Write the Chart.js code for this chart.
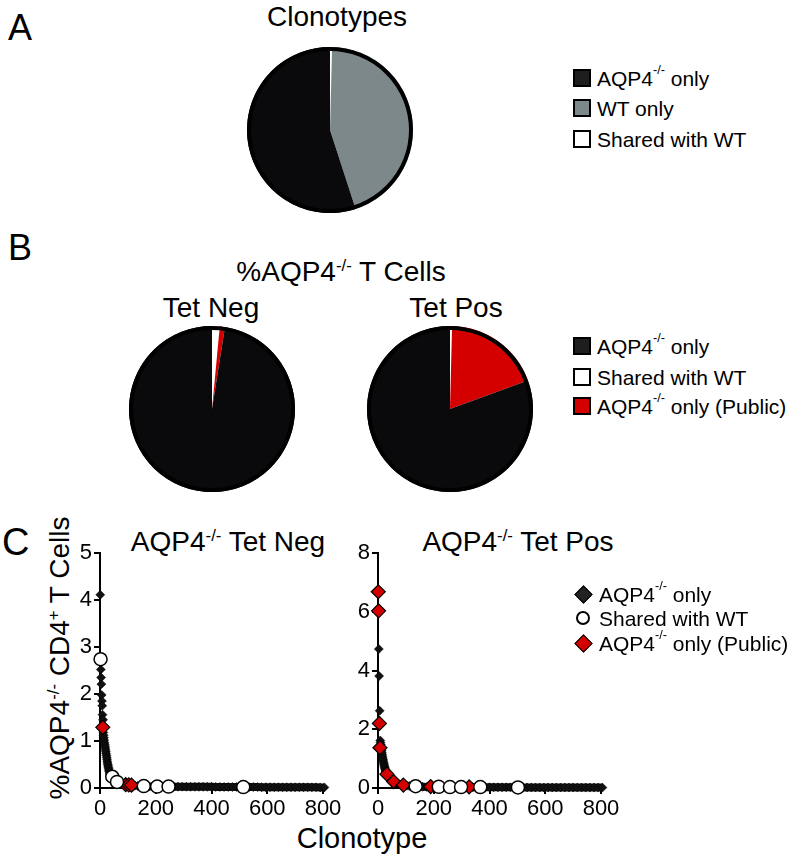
<!DOCTYPE html>
<html lang="en">
<head>
<meta charset="UTF-8">
<title>AQP4-/- clonotypes</title>
<script src="https://cdn.jsdelivr.net/npm/chart.js"></script>
<style>
  body { margin: 0; background: #fff; }
  #fig { position: relative; width: 793px; height: 858px; overflow: hidden;
         font-family: 'Liberation Sans', Arial, sans-serif; color: #000; }
  canvas { position: absolute; }
  .txt { position: absolute; line-height: 1; white-space: nowrap; }
  .c { transform: translateX(-50%); }
  .sup { font-size: 0.6em; position: relative; top: -0.6em; }
  .panel { font-size: 36px; }
  .ttl { font-size: 28px; }
  .leg { position: absolute; left: 573px; height: 24px; display: flex; align-items: center;
         font-size: 21px; line-height: 1; white-space: nowrap; }
  .box { width: 14px; height: 14px; border: 2.5px solid #000; margin-right: 6px; }
  .mk { width: 20px; height: 20px; margin-right: 6px; display: flex; align-items: center; justify-content: center; }
  .dia { width: 11px; height: 11px; border: 1.5px solid #000; transform: rotate(45deg); }
  .circ { width: 10px; height: 10px; border: 2.5px solid #000; border-radius: 50%; background: #fff; }
</style>
</head>
<body>
<div id="fig">
  <div class="txt panel" style="left:8px;top:10px">A</div>
  <div class="txt ttl c" style="left:337px;top:3px">Clonotypes</div>
  <canvas id="pieA" width="176" height="176" style="left:242px;top:42px"></canvas>
  <div class="leg" style="top:66px"><div class="box" style="background:#1e1e1e"></div>AQP4<span class="sup">-/-</span>&nbsp;only</div>
  <div class="leg" style="top:96px"><div class="box" style="background:#7d888b"></div>WT only</div>
  <div class="leg" style="top:127px"><div class="box" style="background:#fff"></div>Shared with WT</div>

  <div class="txt panel" style="left:8px;top:230px">B</div>
  <div class="txt ttl c" style="left:341px;top:258px">%AQP4<span class="sup">-/-</span> T Cells</div>
  <div class="txt ttl c" style="left:211px;top:294px">Tet Neg</div>
  <div class="txt ttl c" style="left:456px;top:294px">Tet Pos</div>
  <canvas id="pieNeg" width="176" height="176" style="left:124px;top:321px"></canvas>
  <canvas id="piePos" width="176" height="176" style="left:362px;top:321px"></canvas>
  <div class="leg" style="top:334px"><div class="box" style="background:#1e1e1e"></div>AQP4<span class="sup">-/-</span>&nbsp;only</div>
  <div class="leg" style="top:365px"><div class="box" style="background:#fff"></div>Shared with WT</div>
  <div class="leg" style="top:394px"><div class="box" style="background:#d40000"></div>AQP4<span class="sup">-/-</span>&nbsp;only (Public)</div>

  <div class="txt panel" style="left:2px;top:523px;font-size:38px">C</div>
  <div class="txt ttl c" style="left:228px;top:528px">AQP4<span class="sup">-/-</span> Tet Neg</div>
  <div class="txt ttl c" style="left:518px;top:528px">AQP4<span class="sup">-/-</span> Tet Pos</div>
  <div class="txt ttl" style="left:60px;top:658px;transform:translate(-50%,-50%) rotate(-90deg)">%AQP4<span class="sup">-/-</span> CD4<span class="sup">+</span> T Cells</div>
  <div class="txt ttl c" style="left:362px;top:824px;font-size:29px">Clonotype</div>
  <canvas id="scNeg" width="320" height="300" style="left:40px;top:530px"></canvas>
  <canvas id="scPos" width="320" height="300" style="left:318px;top:530px"></canvas>
  <div class="leg" style="top:582px;left:573px"><div class="mk"><div class="dia" style="background:#222"></div></div>AQP4<span class="sup">-/-</span>&nbsp;only</div>
  <div class="leg" style="top:606px;left:573px"><div class="mk"><div class="circ"></div></div>Shared with WT</div>
  <div class="leg" style="top:631px;left:573px"><div class="mk"><div class="dia" style="background:#d40000"></div></div>AQP4<span class="sup">-/-</span>&nbsp;only (Public)</div>
</div>

<script>
// ---- A: clonotypes (%), drawn clockwise from 12 o'clock
const clonoLabels = ['Shared with WT', 'WT only', 'AQP4-/- only'];
const clonoValues = [0.4, 44.6, 55.0];

// ---- B: % of AQP4-/- T cells
const cellLabels = ['Shared with WT', 'AQP4-/- only (Public)', 'AQP4-/- only'];
const tetNegPie = [1.5, 1.0, 97.5];
const tetPosPie = [0.4, 19.0, 80.6];

// ---- C: clonotype rank (x) vs % of AQP4-/- CD4+ T cells (y)
const negOnlyX = [1, 3, 4, 5, 6, 7, 8, 9, 11,
  12, 13, 14, 15, 16, 17, 18, 19, 20, 21, 22, 23, 24, 25, 26, 27, 28, 29, 30, 31, 32, 33, 34,
  36, 39, 42, 46, 50, 55, 60, 66, 72, 80, 88, 96, 105, 115, 125, 135, 145,
  160, 175, 190, 205, 220, 235, 250, 265, 280, 295, 310, 325, 340, 355, 370, 385, 400, 415, 430, 445,
  460, 475, 490, 505, 520, 535, 550, 565, 580, 595, 610, 625, 640, 655, 670, 685, 700, 715, 730, 745,
  760, 775, 790, 805, 820, 835, 850];
const negOnlyY = [4.11, 2.52, 2.35, 2.21, 1.98, 1.85, 1.75, 1.56, 1.45,
  1.18, 1.12, 1.07, 1.02, 0.97, 0.93, 0.89, 0.85, 0.81, 0.77, 0.73, 0.69, 0.65, 0.61, 0.57, 0.53, 0.5,
  0.47, 0.44, 0.41, 0.38, 0.35, 0.32,
  0.28, 0.26, 0.24, 0.21, 0.19, 0.16, 0.14, 0.12, 0.1, 0.09, 0.08, 0.07, 0.06, 0.055, 0.05, 0.045, 0.04,
  0.035, 0.034, 0.033, 0.032, 0.031, 0.03, 0.03, 0.029, 0.028, 0.028, 0.027, 0.026, 0.026, 0.025, 0.025,
  0.024, 0.024, 0.023, 0.023, 0.022, 0.022, 0.021, 0.021, 0.02, 0.02, 0.02, 0.019, 0.019, 0.018, 0.018,
  0.018, 0.017, 0.017, 0.016, 0.016, 0.016, 0.015, 0.015, 0.015, 0.014, 0.014, 0.014, 0.013, 0.013,
  0.013, 0.012, 0.012];
const negSharedX = [2, 44, 61, 157, 205, 246, 514];
const negSharedY = [2.74, 0.24, 0.13, 0.04, 0.03, 0.03, 0.02];
const negPublicX = [10, 92, 103, 113];
const negPublicY = [1.29, 0.07, 0.065, 0.06];

const posOnlyX = [3, 4, 6,
  8, 9, 10, 11, 12, 13, 14, 15, 16, 17, 18, 19, 20, 21, 22, 23, 24, 25, 26, 27, 28, 29, 30, 31,
  33, 35, 37, 40, 43, 46, 50, 54, 58, 63, 68, 74, 80, 87, 95, 103, 112, 122, 132, 145, 160,
  175, 190, 205, 220, 235, 250, 265, 280, 295, 310, 325, 340, 355, 370, 385, 400, 415, 430, 445, 460,
  475, 490, 505, 520, 535, 550, 565, 580, 595, 610, 625, 640, 655, 670, 685, 700, 715, 730, 745, 760,
  775, 790, 805, 820];
const posOnlyY = [4.73, 3.81, 2.63,
  1.62, 1.55, 1.48, 1.41, 1.34, 1.27, 1.2, 1.14, 1.08, 1.02, 0.97, 0.92, 0.87, 0.82, 0.78, 0.74, 0.7,
  0.66, 0.62, 0.58, 0.55, 0.52, 0.49, 0.46,
  0.43, 0.4, 0.37, 0.34, 0.31, 0.28, 0.25, 0.22, 0.2, 0.18, 0.16, 0.14, 0.12, 0.1, 0.09, 0.08, 0.07,
  0.06, 0.05, 0.045, 0.04,
  0.035, 0.034, 0.033, 0.032, 0.031, 0.03, 0.03, 0.029, 0.028, 0.028, 0.027, 0.026, 0.026, 0.025, 0.025,
  0.024, 0.024, 0.023, 0.023, 0.022, 0.022, 0.021, 0.021, 0.02, 0.02, 0.02, 0.019, 0.019, 0.018, 0.018,
  0.018, 0.017, 0.017, 0.016, 0.016, 0.016, 0.015, 0.015, 0.015, 0.014, 0.014, 0.014, 0.013, 0.013];
const posSharedX = [135, 218, 258, 298, 367, 502];
const posSharedY = [0.06, 0.04, 0.03, 0.03, 0.03, 0.02];
const posPublicX = [1, 2, 5, 7, 32, 56, 91, 189, 327];
const posPublicY = [6.68, 6.03, 2.2, 1.37, 0.47, 0.22, 0.1, 0.05, 0.04];

const xTicks = [0, 200, 400, 600, 800];

Chart.defaults.font.family = "'Liberation Sans', Arial, sans-serif";
Chart.defaults.color = '#000';

// black rim round each pie
const pieRim = {
  id: 'pieRim',
  afterDatasetsDraw(chart) {
    const arc = chart.getDatasetMeta(0).data[0];
    const ctx = chart.ctx;
    ctx.save();
    ctx.beginPath();
    ctx.arc(arc.x, arc.y, arc.outerRadius - 2, 0, Math.PI * 2);
    ctx.lineWidth = 4;
    ctx.strokeStyle = '#000';
    ctx.stroke();
    ctx.restore();
  }
};

function drawPie(id, labels, values, colors) {
  new Chart(document.getElementById(id), {
    type: 'pie',
    data: { labels: labels, datasets: [{ data: values, backgroundColor: colors, borderWidth: 0 }] },
    options: {
      responsive: false,
      animation: false,
      layout: { padding: 5 },
      plugins: { legend: { display: false }, tooltip: { enabled: false } }
    },
    plugins: [pieRim]
  });
}

drawPie('pieA', clonoLabels, clonoValues, ['#ffffff', '#7d888b', '#0a0a0c']);
drawPie('pieNeg', cellLabels, tetNegPie, ['#ffffff', '#d40000', '#0a0a0c']);
drawPie('piePos', cellLabels, tetPosPie, ['#ffffff', '#d40000', '#0a0a0c']);

function pts(xs, ys) {
  return xs.map((x, i) => ({ x: x, y: ys[i] }));
}

function drawScatter(id, yMax, yStep, only, shared, pub) {
  const axisGrid = { drawOnChartArea: false, color: '#000', lineWidth: 2, tickLength: 6 };
  new Chart(document.getElementById(id), {
    type: 'scatter',
    data: {
      datasets: [
        { label: 'Shared with WT', data: shared, pointStyle: 'circle', pointRadius: 6.5,
          backgroundColor: '#fff', borderColor: '#000', borderWidth: 1.5, clip: false },
        { label: 'AQP4-/- only (Public)', data: pub, pointStyle: 'rectRot', pointRadius: 7,
          backgroundColor: '#d40000', borderColor: '#000', borderWidth: 1.2, clip: false },
        // the long tail of small clonotypes packs into a solid bar along the axis
        { label: 'AQP4-/- only', data: only, pointStyle: 'rectRot', pointRadius: 4.5,
          backgroundColor: '#111', borderColor: '#000', borderWidth: 0.5, clip: false,
          showLine: true,
          segment: {
            borderColor: c => c.p0.parsed.x >= 140 ? '#111' : 'rgba(0,0,0,0)',
            borderWidth: c => c.p0.parsed.x >= 140 ? 8 : 0
          } }
      ]
    },
    options: {
      responsive: false,
      animation: false,
      layout: { padding: { left: 0, top: 23, right: 37, bottom: 0 } },
      plugins: { legend: { display: false }, tooltip: { enabled: false } },
      scales: {
        x: {
          type: 'linear', min: 0, max: 800,
          afterBuildTicks: s => { s.ticks = xTicks.map(v => ({ value: v })); },
          afterFit: s => { s.height = 42; },
          ticks: { font: { size: 22 }, padding: 2, maxRotation: 0 },
          grid: axisGrid,
          border: { color: '#000', width: 2 }
        },
        y: {
          min: 0, max: yMax,
          afterFit: s => { s.width = 60; },
          ticks: { stepSize: yStep, font: { size: 22 }, padding: 2 },
          grid: axisGrid,
          border: { color: '#000', width: 2 }
        }
      }
    }
  });
}

drawScatter('scNeg', 5, 1, pts(negOnlyX, negOnlyY), pts(negSharedX, negSharedY), pts(negPublicX, negPublicY));
drawScatter('scPos', 8, 2, pts(posOnlyX, posOnlyY), pts(posSharedX, posSharedY), pts(posPublicX, posPublicY));
</script>
</body>
</html>
